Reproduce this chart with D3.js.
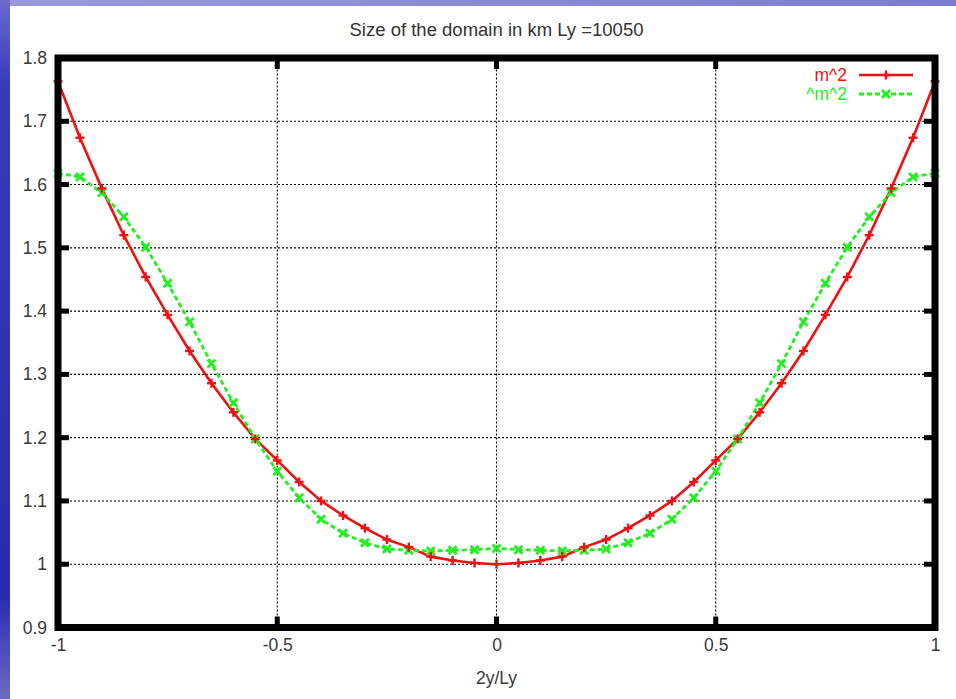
<!DOCTYPE html>
<html>
<head>
<meta charset="utf-8">
<script src="https://cdn.jsdelivr.net/npm/d3@7"></script>
<style>
html,body{margin:0;padding:0;background:#fff;}
svg{display:block;}
text{font-family:"Liberation Sans",Arial,sans-serif;}
</style>
</head>
<body>
<script>
const titleText = "Size of the domain in km Ly =10050";
const xLabel = "2y/Ly";
const xValues = [-1,-0.95,-0.9,-0.85,-0.8,-0.75,-0.7,-0.65,-0.6,-0.55,-0.5,-0.45,-0.4,-0.35,-0.3,-0.25,-0.2,-0.15,-0.1,-0.05,0,
  0.05,0.1,0.15,0.2,0.25,0.3,0.35,0.4,0.45,0.5,0.55,0.6,0.65,0.7,0.75,0.8,0.85,0.9,0.95,1];
const redName = "m^2";
const redValues = [1.763,1.674,1.594,1.520,1.454,1.394,1.337,1.286,1.240,1.198,1.164,1.130,1.100,1.077,1.057,1.039,1.027,1.012,1.006,1.002,1.000,
  1.002,1.006,1.012,1.027,1.039,1.057,1.077,1.100,1.130,1.164,1.198,1.240,1.286,1.337,1.394,1.454,1.520,1.594,1.674,1.763];
const greenName = "^m^2";
const greenValues = [1.618,1.612,1.587,1.549,1.501,1.444,1.383,1.317,1.255,1.198,1.147,1.105,1.071,1.049,1.034,1.024,1.022,1.021,1.022,1.023,1.025,
  1.023,1.022,1.021,1.022,1.024,1.034,1.049,1.071,1.105,1.147,1.198,1.255,1.317,1.383,1.444,1.501,1.549,1.587,1.612,1.618];
const xTicks = [-1,-0.5,0,0.5,1];
const xTickLabels = ["-1","-0.5","0","0.5","1"];
const yTicks = [0.9,1.0,1.1,1.2,1.3,1.4,1.5,1.6,1.7,1.8];
const yTickLabels = ["0.9","1","1.1","1.2","1.3","1.4","1.5","1.6","1.7","1.8"];

const W = 956, H = 699;
const svg = d3.select("body").append("svg").attr("width", W).attr("height", H);
const defs = svg.append("defs");

// slide background
const gH = defs.append("linearGradient").attr("id","bgH").attr("x1","0").attr("y1","0").attr("x2","1").attr("y2","0");
gH.append("stop").attr("offset","0").attr("stop-color","#9a9ad8");
gH.append("stop").attr("offset","1").attr("stop-color","#7c7cd0");
const gV = defs.append("linearGradient").attr("id","bgV").attr("x1","0").attr("y1","0").attr("x2","0").attr("y2","1");
gV.append("stop").attr("offset","0").attr("stop-color","#6a6ad0");
gV.append("stop").attr("offset","0.12").attr("stop-color","#3a3ab8");
gV.append("stop").attr("offset","0.85").attr("stop-color","#2a2ab0");
gV.append("stop").attr("offset","1").attr("stop-color","#6c6cc4");
svg.append("rect").attr("x",0).attr("y",0).attr("width",W).attr("height",H).attr("fill","url(#bgH)");
svg.append("rect").attr("x",0).attr("y",0).attr("width",10).attr("height",H).attr("fill","url(#bgV)");
svg.append("rect").attr("x",10).attr("y",6).attr("width",W-10).attr("height",H-6).attr("fill","#ffffff");

const x = d3.scaleLinear().domain([-1,1]).range([58,935]);
const y = d3.scaleLinear().domain([0.9,1.8]).range([627.5,58]);

// grid
const grid = svg.append("g").attr("stroke","#000").attr("stroke-width",1.1).attr("stroke-dasharray","2,2");
grid.selectAll("line.gy").data(yTicks.filter(v => v>0.95 && v<1.75)).enter().append("line")
  .attr("x1",x(-1)).attr("x2",x(1)).attr("y1",d=>y(d)).attr("y2",d=>y(d));
grid.selectAll("line.gx").data(xTicks.filter(v => v>-0.9 && v<0.9)).enter().append("line")
  .attr("y1",y(0.9)).attr("y2",y(1.8)).attr("x1",d=>x(d)).attr("x2",d=>x(d));

// tick marks (inward)
const tk = svg.append("g").attr("stroke","#000").attr("stroke-width",5);
yTicks.forEach(v => {
  tk.append("line").attr("x1",x(-1)).attr("x2",x(-1)+11).attr("y1",y(v)).attr("y2",y(v));
  tk.append("line").attr("x1",x(1)).attr("x2",x(1)-11).attr("y1",y(v)).attr("y2",y(v));
});
xTicks.forEach(v => {
  tk.append("line").attr("y1",y(0.9)).attr("y2",y(0.9)-11).attr("x1",x(v)).attr("x2",x(v));
  tk.append("line").attr("y1",y(1.8)).attr("y2",y(1.8)+11).attr("x1",x(v)).attr("x2",x(v));
});

const FS = 17.5;
// axes labels via d3 axes
const yAxis = d3.axisLeft(y).tickValues(yTicks).tickSize(0).tickPadding(11).tickFormat((d,i)=>yTickLabels[i]);
const yg = svg.append("g").attr("transform",`translate(${x(-1)},0)`).call(yAxis);
yg.select(".domain").remove();
yg.selectAll("text").attr("font-size",FS).attr("fill","#3a3a3a").attr("font-family","Liberation Sans, Arial, sans-serif");
const xAxis = d3.axisBottom(x).tickValues(xTicks).tickSize(0).tickPadding(11).tickFormat((d,i)=>xTickLabels[i]);
const xg = svg.append("g").attr("transform",`translate(0,${y(0.9)})`).call(xAxis);
xg.select(".domain").remove();
xg.selectAll("text").attr("font-size",FS).attr("fill","#3a3a3a").attr("font-family","Liberation Sans, Arial, sans-serif");

// title & x label
svg.append("text").attr("x",(x(-1)+x(1))/2).attr("y",36).attr("text-anchor","middle")
  .attr("font-size",18.5).attr("fill","#333").text(titleText);
svg.append("text").attr("x",(x(-1)+x(1))/2).attr("y",684).attr("text-anchor","middle")
  .attr("font-size",FS).attr("fill","#3a3a3a").text(xLabel);

const red = "#ee1111", green = "#22ee22";
const line = d3.line().x(d=>x(d[0])).y(d=>y(d[1]));
const redData = xValues.map((v,i)=>[v,redValues[i]]);
const greenData = xValues.map((v,i)=>[v,greenValues[i]]);

const plot = svg.append("g");
plot.append("path").datum(redData).attr("d",line).attr("fill","none").attr("stroke",red).attr("stroke-width",2.6);
plot.append("path").datum(greenData).attr("d",line).attr("fill","none").attr("stroke",green).attr("stroke-width",2.8).attr("stroke-dasharray","5,3");

function plus(g, cx, cy, s, col){
  g.append("line").attr("x1",cx-s).attr("x2",cx+s).attr("y1",cy).attr("y2",cy).attr("stroke",col).attr("stroke-width",2.4);
  g.append("line").attr("x1",cx).attr("x2",cx).attr("y1",cy-s).attr("y2",cy+s).attr("stroke",col).attr("stroke-width",2.4);
}
function cross(g, cx, cy, s, col){
  g.append("line").attr("x1",cx-s).attr("x2",cx+s).attr("y1",cy-s).attr("y2",cy+s).attr("stroke",col).attr("stroke-width",2.8);
  g.append("line").attr("x1",cx-s).attr("x2",cx+s).attr("y1",cy+s).attr("y2",cy-s).attr("stroke",col).attr("stroke-width",2.8);
}
const mg = svg.append("g");
greenData.forEach(d => cross(mg, x(d[0]), y(d[1]), 4, green));
redData.forEach(d => plus(mg, x(d[0]), y(d[1]), 4.5, red));

// frame
svg.append("rect").attr("x",x(-1)).attr("y",y(1.8)).attr("width",x(1)-x(-1)).attr("height",y(0.9)-y(1.8))
  .attr("fill","none").attr("stroke","#000").attr("stroke-width",7);

// legend
const lg = svg.append("g");
lg.append("text").attr("x",847).attr("y",81).attr("text-anchor","end").attr("font-size",FS).attr("fill",red).text(redName);
lg.append("line").attr("x1",859).attr("x2",913).attr("y1",75).attr("y2",75).attr("stroke",red).attr("stroke-width",2.6);
plus(lg, 886, 75, 4.5, red);
lg.append("text").attr("x",847).attr("y",100).attr("text-anchor","end").attr("font-size",FS).attr("fill",green).text(greenName);
lg.append("line").attr("x1",859).attr("x2",913).attr("y1",94).attr("y2",94).attr("stroke",green).attr("stroke-width",2.8).attr("stroke-dasharray","5,3");
cross(lg, 886, 94, 4, green);
</script>
</body>
</html>
